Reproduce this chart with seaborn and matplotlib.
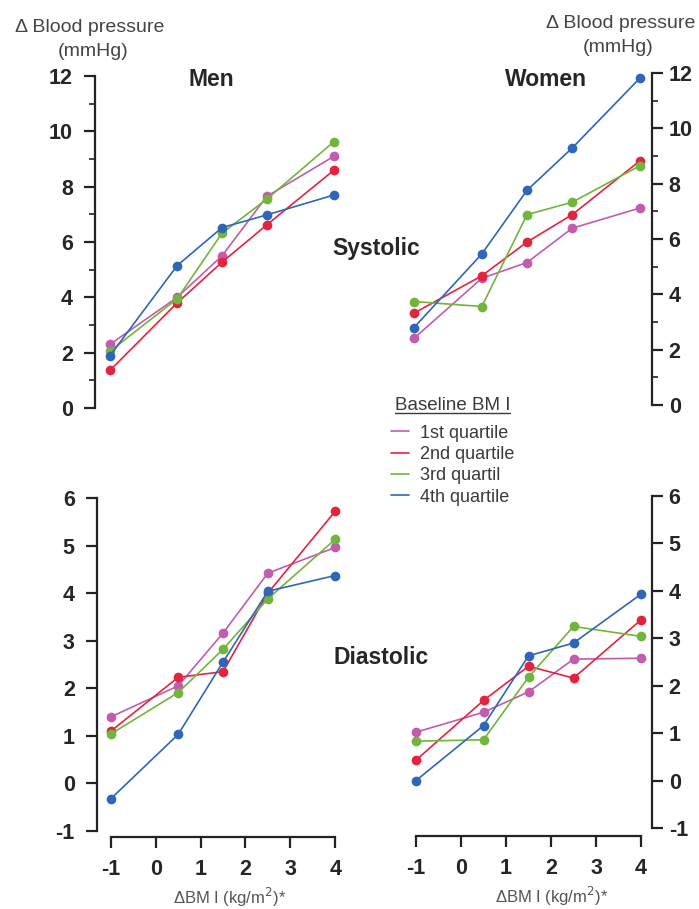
import numpy as np
import pandas as pd
import matplotlib
matplotlib.use("Agg")
import matplotlib.pyplot as plt
import seaborn as sns
from matplotlib.lines import Line2D
from matplotlib.ticker import MultipleLocator

# ---------------- data ----------------
dbmi = [-1, 0.5, 1.5, 2.5, 4]
quartiles = ["1st quartile", "2nd quartile", "3rd quartil", "4th quartile"]

men_sys_q1 = [2.30, 4.00, 5.50, 7.65, 9.10]
men_sys_q2 = [1.36, 3.80, 5.27, 6.62, 8.60]
men_sys_q3 = [2.05, 3.95, 6.32, 7.55, 9.63]
men_sys_q4 = [1.89, 5.15, 6.52, 6.98, 7.70]

women_sys_q1 = [2.41, 4.58, 5.15, 6.39, 7.12]
women_sys_q2 = [3.32, 4.67, 5.89, 6.88, 8.83]
women_sys_q3 = [3.74, 3.56, 6.88, 7.33, 8.65]
women_sys_q4 = [2.80, 5.46, 7.76, 9.29, 11.82]

men_dia_q1 = [1.40, 2.05, 3.16, 4.42, 4.96]
men_dia_q2 = [1.10, 2.23, 2.35, 4.00, 5.72]
men_dia_q3 = [1.04, 1.91, 2.82, 3.88, 5.13]
men_dia_q4 = [-0.32, 1.03, 2.55, 4.04, 4.37]

women_dia_q1 = [1.02, 1.44, 1.87, 2.56, 2.58]
women_dia_q2 = [0.43, 1.69, 2.41, 2.16, 3.39]
women_dia_q3 = [0.83, 0.86, 2.18, 3.25, 3.04]
women_dia_q4 = [0.00, 1.16, 2.63, 2.90, 3.93]

sys_ticks = [0, 2, 4, 6, 8, 10, 12]
dia_ticks = [-1, 0, 1, 2, 3, 4, 5, 6]
x_ticks = [-1, 0, 1, 2, 3, 4]

palette = {
    "1st quartile": "#c15cae",
    "2nd quartile": "#e3243f",
    "3rd quartil": "#72b53c",
    "4th quartile": "#2f66b8",
}

def long_df(q1, q2, q3, q4):
    rows = []
    for q, vals in zip(quartiles, [q1, q2, q3, q4]):
        for x, y in zip(dbmi, vals):
            rows.append({"dbmi": x, "dbp": y, "quartile": q})
    return pd.DataFrame(rows)

df_men_sys = long_df(men_sys_q1, men_sys_q2, men_sys_q3, men_sys_q4)
df_women_sys = long_df(women_sys_q1, women_sys_q2, women_sys_q3, women_sys_q4)
df_men_dia = long_df(men_dia_q1, men_dia_q2, men_dia_q3, men_dia_q4)
df_women_dia = long_df(women_dia_q1, women_dia_q2, women_dia_q3, women_dia_q4)

# ---------------- style ----------------
sns.set_style("white")
plt.rcParams["font.family"] = ["Liberation Sans", "DejaVu Sans"]
plt.rcParams["axes.unicode_minus"] = False

W, H = 699, 909
fig = plt.figure(figsize=(W / 100, H / 100), dpi=100)
fig.patch.set_facecolor("white")

def px_axes(x0, y0, x1, y1):
    # pixel box (left, top, right, bottom) -> figure axes
    return fig.add_axes([x0 / W, 1 - y1 / H, (x1 - x0) / W, (y1 - y0) / H])

ax_ms = px_axes(95, 76, 345, 408)
ax_ws = px_axes(400, 73, 652, 405)
ax_md = px_axes(97, 498, 345, 831)
ax_wd = px_axes(400, 496, 652, 828)

ax_ms.set_xlim(-1.335, 4.245)
ax_ws.set_xlim(-1.31, 4.265)
ax_md.set_xlim(-1.31, 4.22)
ax_wd.set_xlim(-1.356, 4.244)
for a in (ax_ms, ax_ws):
    a.set_ylim(0, 12)
for a in (ax_md, ax_wd):
    a.set_ylim(-1, 6)

for a, d in [(ax_ms, df_men_sys), (ax_ws, df_women_sys),
             (ax_md, df_men_dia), (ax_wd, df_women_dia)]:
    sns.lineplot(data=d, x="dbmi", y="dbp", hue="quartile", hue_order=quartiles,
                 palette=palette, marker="o", markersize=7, markeredgewidth=0,
                 linewidth=1.2, legend=False, ax=a, clip_on=False)
    a.set_xlabel("")
    a.set_ylabel("")
    a.set_facecolor("none")

spine_c = "#232323"
tick_font = dict(fontsize=15.5, fontweight="bold", color="#262626")

def style_y(a, side, ticks, minor):
    for s in ["top", "bottom", "left", "right"]:
        a.spines[s].set_visible(False)
    sp = a.spines[side]
    sp.set_visible(True)
    sp.set_linewidth(1.6)
    sp.set_color(spine_c)
    sp.set_bounds(ticks[0], ticks[-1])
    a.set_yticks(ticks)
    a.set_yticklabels([str(t) for t in ticks], **tick_font)
    if side == "right":
        a.yaxis.tick_right()
        a.tick_params(axis="y", which="major", direction="out", length=8, width=1.6,
                      color=spine_c, pad=4, right=True, left=False)
    else:
        a.yaxis.tick_left()
        a.tick_params(axis="y", which="major", direction="out", length=8, width=1.6,
                      color=spine_c, pad=8, left=True, right=False)
    if minor:
        a.yaxis.set_minor_locator(MultipleLocator(1))
        a.tick_params(axis="y", which="minor", direction="out", length=4, width=1.2,
                      color=spine_c, left=(side == "left"), right=(side == "right"))

def style_x(a, outward):
    sp = a.spines["bottom"]
    sp.set_visible(True)
    sp.set_linewidth(1.6)
    sp.set_color(spine_c)
    sp.set_position(("outward", outward))
    sp.set_bounds(x_ticks[0], x_ticks[-1])
    a.set_xticks(x_ticks)
    a.set_xticklabels([str(t) for t in x_ticks], **tick_font)
    a.tick_params(axis="x", which="major", direction="out", length=8, width=1.6,
                  color=spine_c, pad=8, bottom=True)

style_y(ax_ms, "left", sys_ticks, True)
style_y(ax_ws, "right", sys_ticks, True)
style_y(ax_md, "left", dia_ticks, False)
style_y(ax_wd, "right", dia_ticks, False)
for a in (ax_ms, ax_ws):
    a.set_xticks([])
style_x(ax_md, 4.5)
style_x(ax_wd, 5.5)

# ---------------- text ----------------
lbl = dict(fontsize=14, color="#444444")
fig.text(15 / W, 1 - 28 / H, "Δ Blood pressure", ha="left", va="center", **lbl)
fig.text(93 / W, 1 - 51 / H, "(mmHg)", ha="center", va="center", **lbl)
fig.text(695 / W, 1 - 23 / H, "Δ Blood pressure", ha="right", va="center", **lbl)
fig.text(618 / W, 1 - 47 / H, "(mmHg)", ha="center", va="center", **lbl)

ttl = dict(fontsize=16.5, fontweight="bold", color="#262626", ha="center", va="center")
fig.text(211 / W, 1 - 80 / H, "Men", **ttl)
fig.text(546 / W, 1 - 80 / H, "Women", **ttl)
fig.text(376 / W, 1 - 248 / H, "Systolic", **ttl)
fig.text(381 / W, 1 - 657 / H, "Diastolic", **ttl)

xl = dict(fontsize=12, color="#555555", ha="center", va="center")
fig.text(230 / W, 1 - 897 / H, "ΔBM I (kg/m$^2$)*", **xl)
fig.text(552 / W, 1 - 896 / H, "ΔBM I (kg/m$^2$)*", **xl)

# ---------------- legend ----------------
handles = [Line2D([0], [0], color=palette[q], lw=1.2) for q in quartiles]
leg = fig.legend(handles, quartiles, title="Baseline BM I", frameon=False,
                 loc="upper left", bbox_to_anchor=(378 / W, 1 - 384 / H),
                 fontsize=13, title_fontsize=13.5, handlelength=1.0,
                 handletextpad=0.6, labelspacing=0.24, borderpad=0.2)
leg._legend_box.sep = 8
for t in leg.get_texts():
    t.set_color("#3a3a3a")
leg.get_title().set_color("#3a3a3a")

fig.canvas.draw()
bb = leg.get_title().get_window_extent()
inv = fig.transFigure.inverted()
(x0, y0), (x1, y1) = inv.transform([(bb.x0, bb.y0), (bb.x1, bb.y1)])
fig.add_artist(Line2D([x0, x1], [y0 + 1.0 / H, y0 + 1.0 / H], color="#3a3a3a",
                      lw=1.0, transform=fig.transFigure))

fig.savefig("out.png", dpi=100, facecolor="white")
